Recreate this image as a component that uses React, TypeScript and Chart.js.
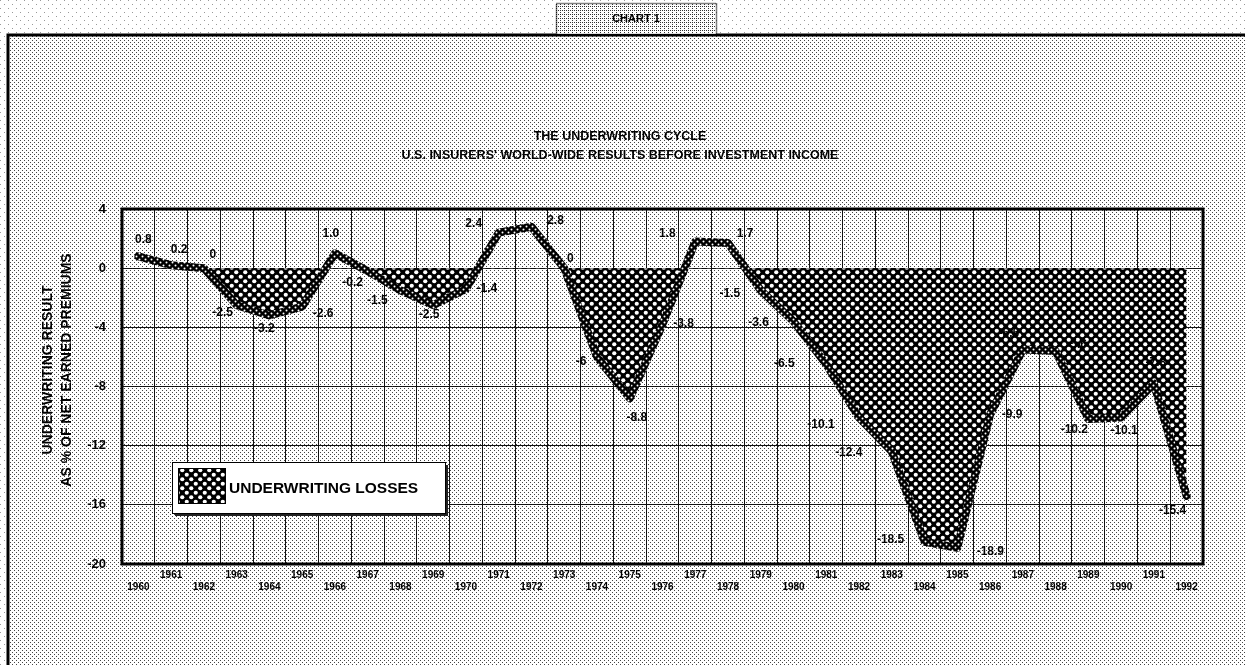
import React, { useEffect, useRef } from 'react';
import { Chart, registerables } from 'chart.js';

Chart.register(...registerables);

const years = [
  '1960', '1961', '1962', '1963', '1964', '1965', '1966', '1967', '1968', '1969',
  '1970', '1971', '1972', '1973', '1974', '1975', '1976', '1977', '1978', '1979',
  '1980', '1981', '1982', '1983', '1984', '1985', '1986', '1987', '1988', '1989',
  '1990', '1991', '1992',
];

const results = [
  0.8, 0.2, 0, -2.5, -3.2, -2.6, 1.0, -0.2, -1.5, -2.5,
  -1.4, 2.4, 2.8, 0, -6, -8.8, -3.8, 1.8, 1.7, -1.5,
  -3.6, -6.5, -10.1, -12.4, -18.5, -18.9, -9.9, -5.5, -5.6, -10.2,
  -10.1, -7.8, -15.4,
];

const valueLabels = [
  '0.8', '0.2', '0', '-2.5', '-3.2', '-2.6', '1.0', '-0.2', '-1.5', '-2.5',
  '-1.4', '2.4', '2.8', '0', '-6', '-8.8', '-3.8', '1.8', '1.7', '-1.5',
  '-3.6', '-6.5', '-10.1', '-12.4', '-18.5', '-18.9', '-9.9', '-5.5', '-5.6', '-10.2',
  '-10.1', '-7.8', '-15.4',
];

const yTicks = [4, 0, -4, -8, -12, -16, -20];

// label placement relative to each point (style only)
const labelOffsets: [number, number][] = [
  [5, -17], [8, -16], [9, -13], [-14, 8], [-5, 13], [21, 7], [-4, -20], [-15, 12], [-23, 10], [-4, 10],
  [21, 0], [-25, -9], [24, -6], [6, -9], [-16, 5], [7, 19], [21, -1], [-28, -8], [17, -9], [-31, 3],
  [-35, 1], [-42, -1], [-38, 7], [-43, 1], [-34, -2], [33, 4], [22, 0], [-14, -16], [21, -6], [-14, 11],
  [3, 13], [2, -21], [-14, 15],
];

const FONT = '"Liberation Sans", Arial, sans-serif';

function makeStipple(ctx: CanvasRenderingContext2D, dots: [number, number][], size: number, color: string) {
  const c = document.createElement('canvas');
  c.width = size;
  c.height = size;
  const g = c.getContext('2d')!;
  g.fillStyle = '#fff';
  g.fillRect(0, 0, size, size);
  g.fillStyle = color;
  dots.forEach(([x, y]) => g.fillRect(x, y, 1, 1));
  return ctx.createPattern(c, 'repeat')!;
}

function makeHatch(ctx: CanvasRenderingContext2D, size: number, r: number) {
  const c = document.createElement('canvas');
  c.width = size;
  c.height = size;
  const g = c.getContext('2d')!;
  g.fillStyle = '#000';
  g.fillRect(0, 0, size, size);
  g.fillStyle = '#fff';
  const h = size / 4;
  [[h, h], [3 * h, 3 * h]].forEach(([x, y]) => {
    g.beginPath();
    g.arc(x, y, r, 0, Math.PI * 2);
    g.fill();
  });
  return ctx.createPattern(c, 'repeat')!;
}

export default function App() {
  const ref = useRef<HTMLCanvasElement>(null);

  useEffect(() => {
    const canvas = ref.current!;
    const ctx0 = canvas.getContext('2d')!;
    const stippleIn = makeStipple(ctx0, [[0, 0], [2, 2]], 4, '#444');
    const stippleOut = makeStipple(ctx0, [[0, 0], [4, 4]], 8, '#999');
    const stippleBox = makeStipple(ctx0, [[0, 0], [2, 2], [0, 2]], 4, '#333');
    const hatch = makeHatch(ctx0, 9, 2.1);
    const lineHatch = makeHatch(ctx0, 6, 1.0);

    const bgPlugin = {
      id: 'bg',
      beforeDraw(chart: any) {
        const { ctx, width, height } = chart;
        ctx.save();
        ctx.fillStyle = '#fff';
        ctx.fillRect(0, 0, width, height);
        ctx.fillStyle = stippleOut;
        ctx.fillRect(0, 0, width, height);
        ctx.fillStyle = stippleIn;
        ctx.fillRect(8, 35, width - 8, height - 35);
        // frame
        ctx.strokeStyle = '#000';
        ctx.lineWidth = 3;
        ctx.beginPath();
        ctx.moveTo(8, height);
        ctx.lineTo(8, 35);
        ctx.lineTo(width, 35);
        ctx.stroke();
        // CHART 1 box
        ctx.fillStyle = stippleBox;
        ctx.fillRect(556, 3, 160, 31);
        ctx.lineWidth = 1.5;
        ctx.setLineDash([1, 1]);
        ctx.strokeRect(556.5, 3.5, 160, 31);
        ctx.setLineDash([]);
        ctx.fillStyle = '#000';
        ctx.font = `bold 11px ${FONT}`;
        ctx.textAlign = 'center';
        ctx.textBaseline = 'middle';
        ctx.fillText('CHART 1', 636, 19);
        // titles
        ctx.font = `bold 12.5px ${FONT}`;
        ctx.fillText('THE UNDERWRITING CYCLE', 620, 137);
        ctx.fillText("U.S. INSURERS' WORLD-WIDE RESULTS BEFORE INVESTMENT INCOME", 620, 156);
        // y axis title
        ctx.save();
        ctx.translate(48, 370);
        ctx.rotate(-Math.PI / 2);
        ctx.font = `bold 14px ${FONT}`;
        ctx.fillText('UNDERWRITING RESULT', 0, 0);
        ctx.fillText('AS % OF NET EARNED PREMIUMS', 0, 19);
        ctx.restore();
        ctx.restore();
      },
    };

    const overlayPlugin = {
      id: 'overlay',
      afterDatasetsDraw(chart: any) {
        const { ctx } = chart;
        const meta = chart.getDatasetMeta(0);
        ctx.save();
        ctx.fillStyle = '#000';
        ctx.font = `bold 12px ${FONT}`;
        ctx.textAlign = 'center';
        ctx.textBaseline = 'middle';
        meta.data.forEach((pt: any, i: number) => {
          const [dx, dy] = labelOffsets[i];
          ctx.fillText(valueLabels[i], pt.x + dx, pt.y + dy);
        });
        ctx.restore();
      },
      afterDraw(chart: any) {
        const { ctx, chartArea: a } = chart;
        ctx.save();
        ctx.strokeStyle = '#000';
        ctx.lineWidth = 3;
        ctx.strokeRect(a.left, a.top, a.right - a.left, a.bottom - a.top);
        // legend box
        const lx = 172, ly = 462, lw = 273, lh = 51;
        ctx.fillStyle = '#222';
        ctx.fillRect(lx + 3, ly + 3, lw, lh);
        ctx.fillStyle = '#fff';
        ctx.fillRect(lx, ly, lw, lh);
        ctx.lineWidth = 1;
        ctx.strokeRect(lx + 0.5, ly + 0.5, lw, lh);
        ctx.fillStyle = hatch;
        ctx.fillRect(178, 468, 47, 35);
        ctx.strokeRect(178.5, 468.5, 47, 35);
        ctx.fillStyle = '#000';
        ctx.font = `bold 15.5px ${FONT}`;
        ctx.textAlign = 'left';
        ctx.textBaseline = 'middle';
        ctx.fillText('UNDERWRITING LOSSES', 229, 489);
        ctx.restore();
      },
    };

    const chart = new Chart(canvas, {
      type: 'line',
      data: {
        labels: years,
        datasets: [
          {
            data: results,
            borderColor: lineHatch,
            borderWidth: 8,
            borderJoinStyle: 'round',
            borderCapStyle: 'round',
            pointRadius: 0,
            tension: 0,
            fill: { target: { value: 0 }, above: 'rgba(0,0,0,0)', below: hatch },
          } as any,
        ],
      },
      options: {
        responsive: false,
        animation: false,
        layout: { padding: { left: 0, top: 209, right: 42, bottom: 0 } },
        plugins: { legend: { display: false }, tooltip: { enabled: false } },
        scales: {
          x: {
            type: 'category',
            offset: true,
            grid: { offset: true, color: '#111', lineWidth: 1, drawTicks: false },
            border: { display: false },
            ticks: {
              autoSkip: false,
              maxRotation: 0,
              minRotation: 0,
              padding: 5,
              color: '#000',
              font: { family: FONT, size: 10, weight: 'bold' },
              callback: (_v: any, i: number) => (i % 2 === 1 ? [years[i], ' '] : [' ', years[i]]),
            },
            afterFit: (s: any) => {
              s.height = 101;
            },
          },
          y: {
            min: -20,
            max: 4,
            afterBuildTicks: (s: any) => {
              s.ticks = yTicks.map((v) => ({ value: v }));
            },
            grid: { color: '#111', lineWidth: 1, drawTicks: false },
            border: { display: false },
            ticks: {
              padding: 16,
              color: '#000',
              font: { family: FONT, size: 13, weight: 'bold' },
              callback: (v: any) => String(v),
            },
            afterFit: (s: any) => {
              s.width = 122;
            },
          },
        },
      } as any,
      plugins: [bgPlugin, overlayPlugin],
    });

    return () => chart.destroy();
  }, []);

  return (
    <div style={{ position: 'absolute', left: 0, top: 0, width: 1245, height: 665 }}>
      <canvas ref={ref} width={1245} height={665} style={{ display: 'block' }} />
    </div>
  );
}
